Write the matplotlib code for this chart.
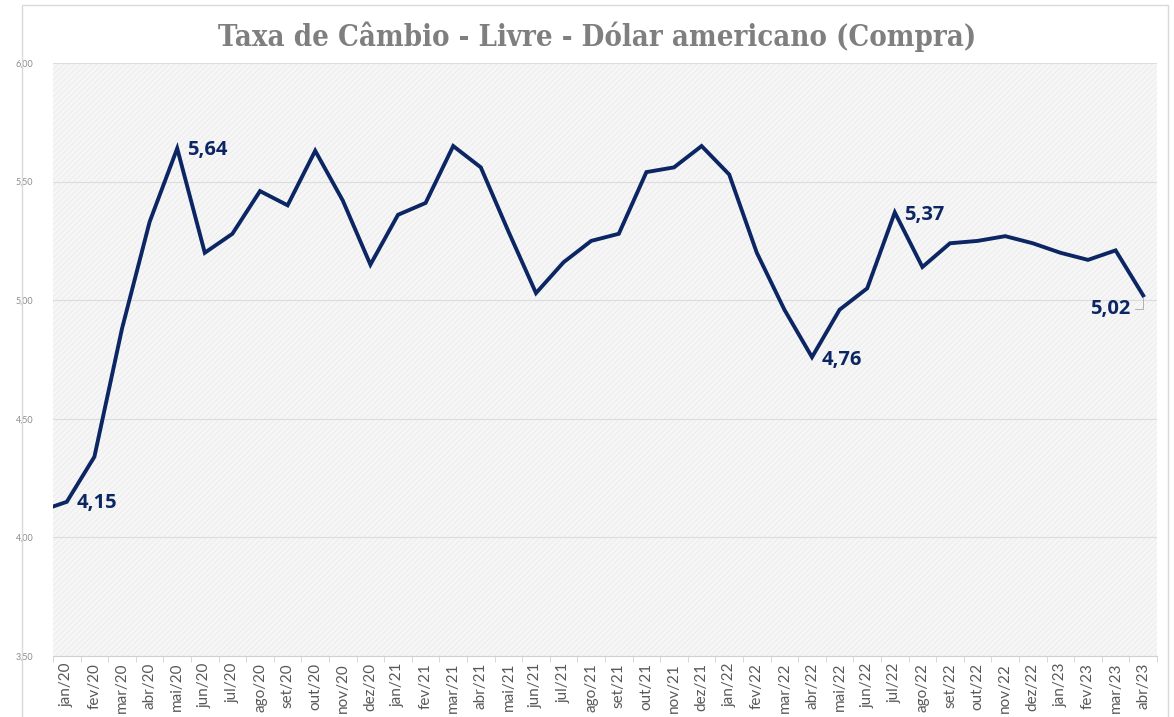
import matplotlib.pyplot as plt
from matplotlib.patches import Rectangle

# Monthly averages, dez/19 is only there so the line enters from the left edge
prev_value = 4.11
months = ['jan/20', 'fev/20', 'mar/20', 'abr/20', 'mai/20', 'jun/20', 'jul/20', 'ago/20',
          'set/20', 'out/20', 'nov/20', 'dez/20', 'jan/21', 'fev/21', 'mar/21', 'abr/21',
          'mai/21', 'jun/21', 'jul/21', 'ago/21', 'set/21', 'out/21', 'nov/21', 'dez/21',
          'jan/22', 'fev/22', 'mar/22', 'abr/22', 'mai/22', 'jun/22', 'jul/22', 'ago/22',
          'set/22', 'out/22', 'nov/22', 'dez/22', 'jan/23', 'fev/23', 'mar/23', 'abr/23']
rates = [4.15, 4.34, 4.88, 5.33, 5.64, 5.20, 5.28, 5.46,
         5.40, 5.63, 5.42, 5.15, 5.36, 5.41, 5.65, 5.56,
         5.29, 5.03, 5.16, 5.25, 5.28, 5.54, 5.56, 5.65,
         5.53, 5.20, 4.96, 4.76, 4.96, 5.05, 5.37, 5.14,
         5.24, 5.25, 5.27, 5.24, 5.20, 5.17, 5.21, 5.02]
labelled = ['jan/20', 'mai/20', 'abr/22', 'jul/22', 'abr/23']

navy = '#0c2664'
plt.rcParams['hatch.linewidth'] = 0.4

fig = plt.figure(figsize=(11.74, 7.17), dpi=100)
ax = fig.add_axes([53 / 1174, 1 - 656 / 717, (1157 - 53) / 1174, (656 - 63) / 717])

# hatched light background of the plot area
ax.add_patch(Rectangle((0, 0), 1, 1, transform=ax.transAxes, facecolor='#f6f6f6',
                       edgecolor='#e6e6e6', hatch='//////', lw=0, zorder=0))

x = list(range(-1, len(months)))
ax.plot(x, [prev_value] + rates, color=navy, lw=2.8, solid_joinstyle='miter', zorder=3)

ax.set_xlim(-0.5, len(months) - 0.5)
ax.set_ylim(3.5, 6.0)
yt = [3.5, 4.0, 4.5, 5.0, 5.5, 6.0]
ax.set_yticks(yt)
ax.set_yticklabels([f'{v:.2f}'.replace('.', ',') for v in yt], fontsize=6.5,
                   color='#8c8c8c', family='Lato')
for v in yt:
    ax.axhline(v, color='#dcdcdc', lw=0.8, zorder=1)

ax.set_xticks(range(len(months)))
ax.set_xticklabels(months, rotation=90, fontsize=11, color='#595959', family='Lato')
ax.set_xticks([i - 0.5 for i in range(len(months) + 1)], minor=True)
ax.tick_params(axis='x', which='major', length=0, pad=5)
ax.tick_params(axis='x', which='minor', length=4, color='#d0d0d0')
ax.tick_params(axis='y', length=0, pad=14)

for s in ['top', 'right', 'left']:
    ax.spines[s].set_visible(False)
ax.spines['bottom'].set_color('#d0d0d0')

# data labels
offsets = {'jan/20': (7, -0.5, 'left'), 'mai/20': (7, -1.5, 'left'),
           'abr/22': (7, -2, 'left'), 'jul/22': (7, -1.5, 'left'),
           'abr/23': (-9, -10, 'right')}
for m in labelled:
    i = months.index(m)
    v = rates[i]
    dx, dy, ha = offsets[m]
    txt = f'{v:.2f}'.replace('.', ',')
    props = None
    if m == 'abr/23':
        props = dict(arrowstyle='-', color='#a6a6a6', lw=0.6,
                     connectionstyle='angle,angleA=0,angleB=90', shrinkA=1, shrinkB=1)
    ax.annotate(txt, (i, v), xytext=(dx, dy), textcoords='offset points', ha=ha,
                va='center', fontsize=14.5, fontweight='bold', color=navy,
                family='Open Sans', arrowprops=props, zorder=4)

fig.text(597 / 1174, 1 - 37 / 717, 'Taxa de Câmbio - Livre - Dólar americano (Compra)',
         ha='center', va='center', fontsize=21, fontweight='bold', color='#7f7f7f',
         family='DejaVu Serif', fontstretch='condensed')

# outer chart border
fig.add_artist(Rectangle((22 / 1174, -0.01), (1168 - 22) / 1174, 1 - 5 / 717 + 0.01,
                         transform=fig.transFigure, fill=False, edgecolor='#d9d9d9', lw=1))

fig.savefig('out.png', dpi=100)
